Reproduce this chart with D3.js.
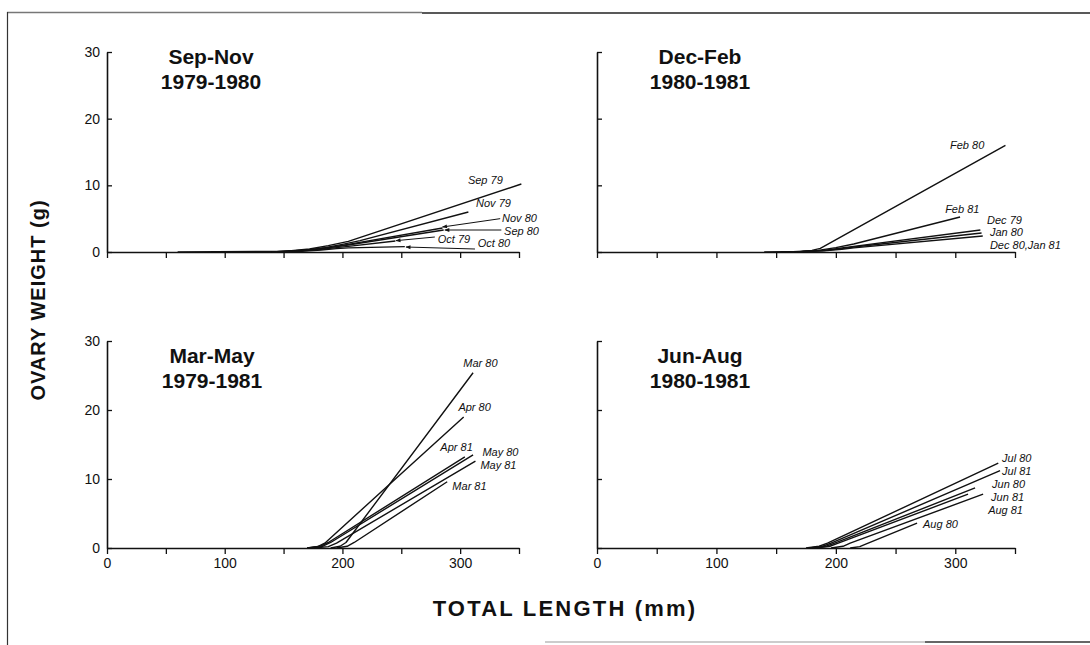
<!DOCTYPE html>
<html><head><meta charset="utf-8">
<script src="https://cdn.jsdelivr.net/npm/d3@7"></script>
<style>
body{margin:0;background:#fff;}
svg{display:block;}
</style></head>
<body>
<svg id="c" width="1090" height="645"></svg>
<script>
// ---------- DATA ----------
const panelNames = ["Sep-Nov", "Dec-Feb", "Mar-May", "Jun-Aug"];
const panelYears = ["1979-1980", "1980-1981", "1979-1981", "1980-1981"];
const xTicks = [0, 50, 100, 150, 200, 250, 300, 350];
const xTickLabels = [0, 100, 200, 300];
const yTicks = [0, 10, 20, 30];

// Sep-Nov: [length mm, ovary weight g]
const sepNovNames = ["Sep 79", "Nov 79", "Nov 80", "Sep 80", "Oct 79", "Oct 80"];
const sepNovLines = [
  [[60,0],[150,0.1],[172,0.45],[188,0.95],[205,1.6],[352,10.2]],
  [[140,0],[168,0.25],[185,0.65],[200,1.15],[215,1.7],[307,6.0]],
  [[140,0],[172,0.3],[190,0.7],[205,1.15],[285,3.6]],
  [[140,0],[172,0.3],[190,0.7],[205,1.05],[286,3.3]],
  [[150,0],[180,0.35],[195,0.65],[205,0.85],[245,1.65]],
  [[155,0],[182,0.3],[195,0.5],[205,0.62],[253,0.8]]
];
const sepNovLabelPos = [[306.6,10.8],[313.5,7.35],[335.6,5.15],[337.3,3.15],[281,1.95],[315,1.35]];
const sepNovLeaders = [null, null, [[334,5.0],[285,3.75]], [[335,3.3],[287,3.3]], [[278.5,2.25],[245.5,1.7]], [[312.6,0.45],[254,0.75]]];

// Dec-Feb
const decFebNames = ["Feb 80", "Feb 81", "Dec 79", "Jan 80", "Dec 80,Jan 81"];
const decFebLines = [
  [[140,0],[172,0.08],[180,0.25],[187,0.55],[342,16.0]],
  [[160,0],[185,0.25],[200,0.65],[215,1.2],[304,5.25]],
  [[165,0],[190,0.25],[205,0.6],[215,0.85],[321,3.3]],
  [[165,0],[190,0.2],[205,0.5],[215,0.75],[322,2.85]],
  [[165,0],[190,0.18],[205,0.42],[215,0.62],[323,2.4]]
];
const decFebLabelPos = [[295.6,16.0],[291.5,6.45],[326.6,4.8],[329,2.95],[329,1.05]];

// Mar-May
const marMayNames = ["Mar 80", "Apr 80", "Apr 81", "May 80", "May 81", "Mar 81"];
const marMayLines = [
  [[190,0],[198,0.25],[203,0.8],[311,25.4]],
  [[170,0],[179,0.2],[185,0.7],[303,19.0]],
  [[170,0],[181,0.25],[188,0.8],[304,13.2]],
  [[172,0],[183,0.25],[190,0.8],[311,13.5]],
  [[176,0],[188,0.2],[195,0.7],[313,12.6]],
  [[195,0],[204,0.25],[210,0.8],[289,9.6]]
];
const marMayLabelPos = [[302.7,26.8],[298.5,20.4],[283.2,14.6],[318.9,13.9],[317.2,12.0],[293.4,9.0]];

// Jun-Aug
const junAugNames = ["Jul 80", "Jul 81", "Jun 80", "Jun 81", "Aug 81", "Aug 80"];
const junAugLines = [
  [[175,0],[186,0.25],[193,0.7],[336,12.3]],
  [[178,0],[189,0.25],[196,0.7],[337.5,11.2]],
  [[180,0],[192,0.25],[199,0.7],[316.6,8.7]],
  [[183,0],[195,0.25],[202,0.7],[310.7,7.8]],
  [[196,0],[206,0.25],[212,0.7],[323.3,7.8]],
  [[212,0],[220,0.2],[225,0.55],[268,3.6]]
];
const junAugLabelPos = [[339.2,13.04],[339.2,11.16],[330.8,9.28],[330,7.39],[327.5,5.51],[273,3.5]];

// ---------- LAYOUT ----------
const panelsLayout = [
  {x0:107, x1:519, y0:252, y1:52, xLabels:false, yLabels:true,  tx:211, ty:64},
  {x0:597, x1:1015, y0:252, y1:52, xLabels:false, yLabels:false, tx:700, ty:64},
  {x0:107, x1:519, y0:548, y1:341, xLabels:true, yLabels:true,  tx:212, ty:363},
  {x0:597, x1:1015, y0:548, y1:341, xLabels:true, yLabels:false, tx:700, ty:363}
];
const panelData = [
  {names:sepNovNames, lines:sepNovLines, labels:sepNovLabelPos, leaders:sepNovLeaders},
  {names:decFebNames, lines:decFebLines, labels:decFebLabelPos, leaders:[]},
  {names:marMayNames, lines:marMayLines, labels:marMayLabelPos, leaders:[]},
  {names:junAugNames, lines:junAugLines, labels:junAugLabelPos, leaders:[]}
];

const svg = d3.select("#c");
const FONT = "'Liberation Sans', Arial, Helvetica, sans-serif";

svg.append("defs").append("marker")
  .attr("id","arr").attr("viewBox","0 0 10 10").attr("refX",9).attr("refY",5)
  .attr("markerWidth",6).attr("markerHeight",5).attr("orient","auto")
  .append("path").attr("d","M0,1 L10,5 L0,9 Z").attr("fill","#111");

// frame
svg.append("line").attr("x1",7).attr("x2",422).attr("y1",12.5).attr("y2",12.5).attr("stroke","#777").attr("stroke-width",1.5);
svg.append("line").attr("x1",422).attr("x2",1090).attr("y1",13).attr("y2",13).attr("stroke","#222").attr("stroke-width",1.5);
svg.append("line").attr("x1",7.5).attr("x2",7.5).attr("y1",12).attr("y2",645).attr("stroke","#333").attr("stroke-width",1.2);
svg.append("line").attr("x1",545).attr("x2",925).attr("y1",642).attr("y2",642).attr("stroke","#bbb").attr("stroke-width",1.5);
svg.append("line").attr("x1",925).attr("x2",1090).attr("y1",642).attr("y2",642).attr("stroke","#333").attr("stroke-width",1.5);

panelsLayout.forEach((L, i) => {
  const D = panelData[i];
  const x = d3.scaleLinear().domain([0,350]).range([L.x0, L.x1]);
  const y = d3.scaleLinear().domain([0,30]).range([L.y0, L.y1]);
  const g = svg.append("g");

  const xa = d3.axisBottom(x).tickValues(xTicks).tickSizeInner(6).tickSizeOuter(0).tickPadding(4)
    .tickFormat(d => (L.xLabels && xTickLabels.includes(d)) ? d : "");
  const gx = g.append("g").attr("transform",`translate(0,${L.y0})`).call(xa);
  const ya = d3.axisLeft(y).tickValues(yTicks).tickSizeInner(-5).tickSizeOuter(0).tickPadding(7)
    .tickFormat(d => L.yLabels ? d : "");
  const gy = g.append("g").attr("transform",`translate(${L.x0},0)`).call(ya);
  [gx, gy].forEach(a => {
    a.select(".domain").attr("stroke","#111").attr("stroke-width",1.6);
    a.selectAll(".tick line").attr("stroke","#111").attr("stroke-width",1.3);
    a.selectAll("text").attr("font-family",FONT).attr("font-size",14).attr("fill","#111");
  });

  // title
  g.append("text").attr("x",L.tx).attr("y",L.ty).attr("text-anchor","middle")
    .attr("font-family",FONT).attr("font-weight","bold").attr("font-size",21).attr("fill","#111")
    .text(panelNames[i]);
  g.append("text").attr("x",L.tx).attr("y",L.ty+25).attr("text-anchor","middle")
    .attr("font-family",FONT).attr("font-weight","bold").attr("font-size",21).attr("fill","#111")
    .text(panelYears[i]);

  const line = d3.line().x(d => x(d[0])).y(d => y(d[1])).curve(d3.curveLinear);
  g.selectAll("path.series").data(D.lines).join("path").attr("class","series")
    .attr("d", line).attr("fill","none").attr("stroke","#111").attr("stroke-width",1.4)
    .attr("stroke-linejoin","round");

  g.selectAll("text.lab").data(D.names).join("text").attr("class","lab")
    .attr("x",(d,j) => x(D.labels[j][0])).attr("y",(d,j) => y(D.labels[j][1]))
    .attr("dy","0.35em").attr("font-family",FONT).attr("font-style","italic")
    .attr("font-size",11).attr("fill","#111").text(d => d);

  D.leaders.forEach(ld => {
    if (!ld) return;
    g.append("line").attr("x1",x(ld[0][0])).attr("y1",y(ld[0][1]))
      .attr("x2",x(ld[1][0])).attr("y2",y(ld[1][1]))
      .attr("stroke","#111").attr("stroke-width",1).attr("marker-end","url(#arr)");
  });
});

// axis titles
svg.append("text").attr("transform","translate(45,300) rotate(-90)").attr("text-anchor","middle")
  .attr("font-family",FONT).attr("font-weight","bold").attr("font-size",20).attr("letter-spacing",1)
  .attr("fill","#111").text("OVARY WEIGHT (g)");
svg.append("text").attr("x",565).attr("y",616).attr("text-anchor","middle")
  .attr("font-family",FONT).attr("font-weight","bold").attr("font-size",22).attr("letter-spacing",2.2)
  .attr("fill","#111").text("TOTAL LENGTH (mm)");
</script>
</body></html>
